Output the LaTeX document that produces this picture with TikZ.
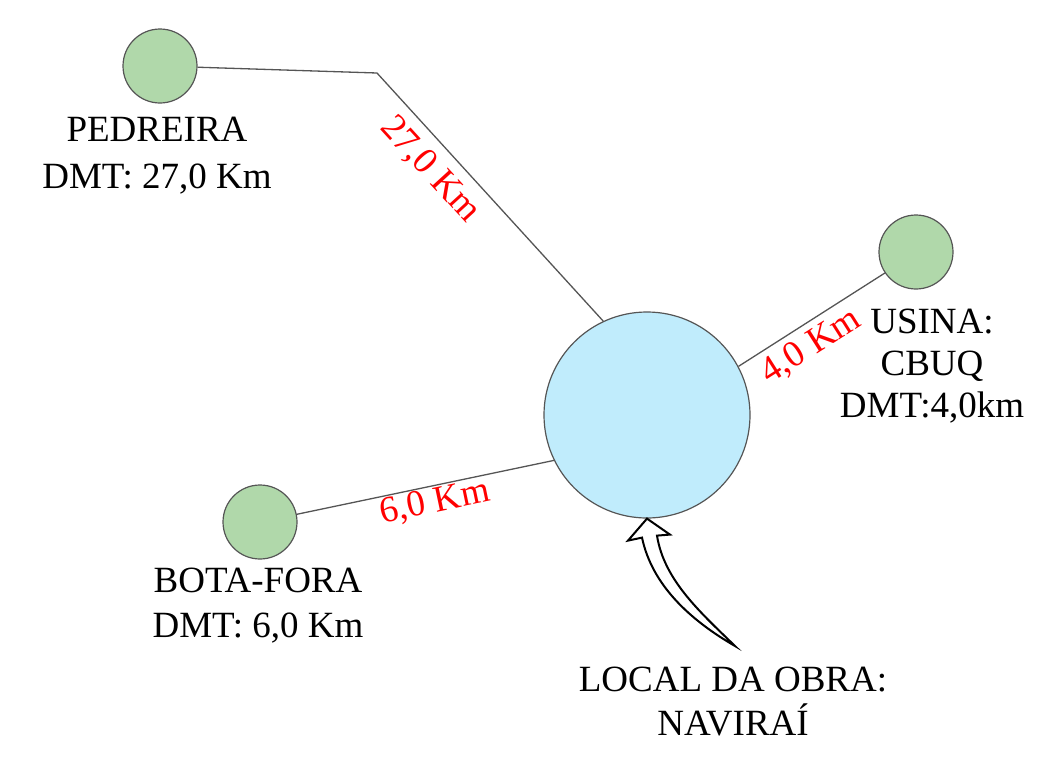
\documentclass[tikz,border=0pt]{standalone}
\usepackage{fontspec}
\setmainfont{Liberation Serif}
\usetikzlibrary{calc,positioning}
\definecolor{sitegreen}{RGB}{176,216,170}
\definecolor{siteblue}{RGB}{192,236,252}
\definecolor{linegray}{RGB}{85,85,85}

\begin{document}
\begin{tikzpicture}[x=0.5pt,y=-0.5pt]
      \tikzstyle{snode} = [circle, draw=linegray, line width=0.6pt, fill=sitegreen, minimum size=37pt, inner sep=0pt]
      \tikzstyle{bnode} = [circle, draw=linegray, line width=0.6pt, fill=siteblue, minimum size=103pt, inner sep=0pt]
      \tikzstyle{tnode} = [align=center, inner sep=0pt, font=\fontsize{18.5}{23.5}\selectfont]
      \tikzstyle{dnode} = [inner sep=0pt, text=red, font=\fontsize{18.5}{22}\selectfont]
      \tikzstyle{link} = [draw=linegray, line width=0.65pt]

      \useasboundingbox (0,0) rectangle (1044,761);

      \node[bnode] (obra) at (647,415) {};
      \node[snode] (pedreira) at (160,66) {};
      \node[snode] (usina) at (916,252) {};
      \node[snode] (bota) at (260,522) {};
      \coordinate (bend) at (377,73);

      \draw[link] (pedreira) -- (bend) -- (obra.115);
      \draw[link] (usina.214) -- (obra.28);
      \draw[link] (bota) -- (obra.206);

      \node[dnode, rotate=-47.6] (dped) at (430,170) {27,0 Km};
      \node[dnode, rotate=32.4] (dusi) at (811,347) {4,0 Km};
      \node[dnode, rotate=11.9] (dbot) at (435,503) {6,0 Km};

      \node[tnode] (tped) at (157,156) {PEDREIRA\\ DMT: 27,0 Km};
      \node[tnode, font=\fontsize{18.5}{21}\selectfont] (tusi) at (932,366) {USINA:\\ CBUQ\\ DMT:4,0km};
      \node[tnode, font=\fontsize{18.5}{22.5}\selectfont] (tbot) at (258,606) {BOTA-FORA\\ DMT: 6,0 Km};
      \node[tnode, font=\fontsize{18.5}{22}\selectfont] (tloc) at (733,702) {LOCAL DA OBRA:\\ NAVIRAÍ};

      % hollow curved arrow
      \coordinate (tail) at (735,646);
      \coordinate (tip) at (obra.-90);
      \draw[black, line width=1pt, fill=white, line join=miter]
        (tip) -- ($(tip)+(-19,22)$) -- ($(tip)+(-5,19)$)
        .. controls (652,585) and (690,620) .. (tail)
        .. controls (700,612) and (664,580) .. ($(tip)+(10,17)$)
        -- ($(tip)+(23,16)$) -- cycle;
\end{tikzpicture}
\end{document}
